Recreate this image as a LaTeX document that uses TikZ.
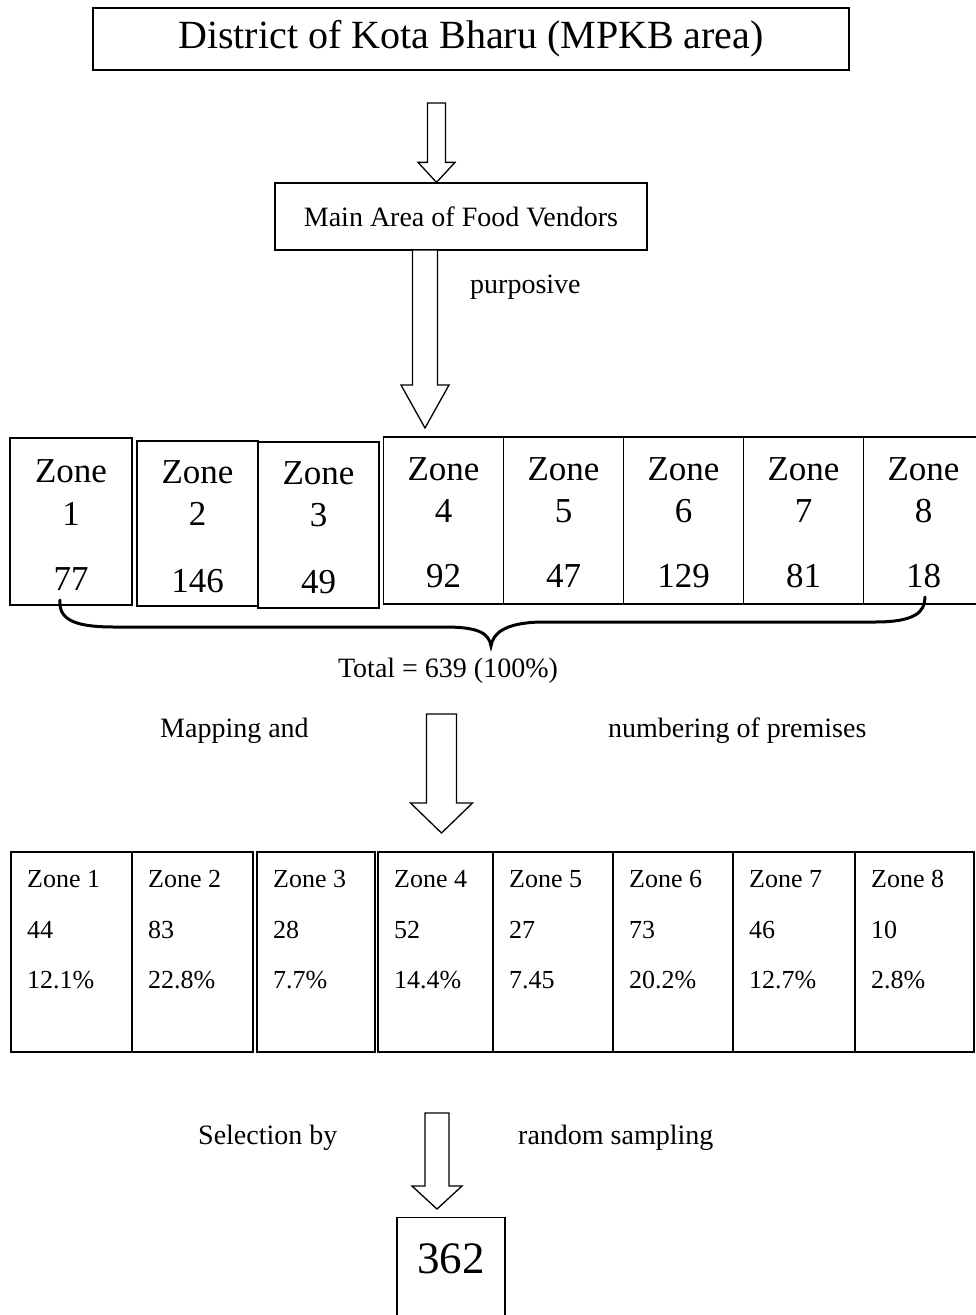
\documentclass[tikz,border=0pt]{standalone}
\usepackage{fontspec}
\setmainfont{Liberation Serif}
\usetikzlibrary{calc}

% hollow block arrow: top, tip, head length, shaft half width, head half width
\newcommand{\blockarrow}[5]{%
  \draw[line width=1.3pt,line join=miter,fill=white] let \p1=(#1), \p2=(#2) in
    (\x2-#4pt,\y1) -- (\x2+#4pt,\y1) -- (\x2+#4pt,\y2+#3pt) -- (\x2+#5pt,\y2+#3pt)
    -- (\x2,\y2) -- (\x2-#5pt,\y2+#3pt) -- (\x2-#4pt,\y2+#3pt) -- cycle;}

\begin{document}
\begin{tikzpicture}[x=1pt,y=-1pt,
  box/.style={draw,line width=1.3pt,inner sep=0pt},
  bigtxt/.style={font=\fontsize{35}{40}\selectfont,anchor=base,inner sep=0pt},
  midtxt/.style={font=\fontsize{28}{32}\selectfont,anchor=base west,inner sep=0pt},
  celltxt/.style={font=\fontsize{26}{30}\selectfont,anchor=base west,inner sep=0pt}]
\useasboundingbox (0,0) rectangle (976,1315);

% top boxes
\node[box,minimum width=756pt,minimum height=62pt,font=\fontsize{40}{46}\selectfont] (district) at (471,39) {District of Kota Bharu (MPKB area)};
\node[box,minimum width=372pt,minimum height=67pt,font=\fontsize{28}{32}\selectfont] (mainarea) at (461,216.5) {Main Area of Food Vendors};

% arrows down to the zones
\coordinate (a1top) at (436.5,103);
\blockarrow{a1top}{a1top |- mainarea.north}{20}{9}{18.5}
\coordinate (a2top) at (425,250);
\coordinate (a2tip) at (425,428);
\blockarrow{a2top}{a2tip}{43}{12.5}{24}
\node[midtxt] (purposive) at (470,293) {purposive};

% zones, all premises
\node[box,minimum width=122pt,minimum height=167pt] (zone1) at (71,521.5) {};
\node[bigtxt] at (71,482) {Zone};
\node[bigtxt] at (71,525) {1};
\node[bigtxt] at (71,590) {77};
\node[box,minimum width=121pt,minimum height=165pt] (zone2) at (197.5,523.5) {};
\node[bigtxt] at (197.5,483) {Zone};
\node[bigtxt] at (197.5,525) {2};
\node[bigtxt] at (197.5,592) {146};
\node[box,minimum width=121pt,minimum height=166pt] (zone3) at (318.5,525) {};
\node[bigtxt] at (318.5,484) {Zone};
\node[bigtxt] at (318.5,526) {3};
\node[bigtxt] at (318.5,593) {49};
\foreach \i/\n [count=\k from 0] in {4/92,5/47,6/129,7/81,8/18} {
  \node[box,minimum width=120pt,minimum height=167pt] (zone\i) at (443.5+120*\k,520.5) {};
  \node[bigtxt] at (443.5+120*\k,480) {Zone};
  \node[bigtxt] at (443.5+120*\k,522) {\i};
  \node[bigtxt] at (443.5+120*\k,587) {\n};
}

% brace
\coordinate (bleft) at (60,600);
\coordinate (bright) at (925,597);
\coordinate (btip) at (491,646);
\draw[line width=3pt,line cap=round] (bleft) .. controls (58,622) and (80,627) .. (115,627) -- (445,627)
  .. controls (478,627) and (489,633) .. (btip)
  .. controls (493,633) and (505,623) .. (540,622) -- (875,622)
  .. controls (915,622) and (925,612) .. (bright);
\node[midtxt,anchor=base] (total) at (448,677) {Total = 639 (100\%)};

% mapping
\node[midtxt] (mapping) at (160,737) {Mapping and};
\node[midtxt] (numbering) at (608,737) {numbering of premises};
\coordinate (a3top) at (441.5,714);
\coordinate (a3tip) at (441.5,833);
\blockarrow{a3top}{a3tip}{30}{15}{31}

% zones, sample
\foreach \l/\r/\i/\n/\p in {11/132/1/44/12.1\%,132/253/2/83/22.8\%,257/375/3/28/7.7\%,378/493/4/52/14.4\%,
  493/613/5/27/7.45,613/733/6/73/20.2\%,733/855/7/46/12.7\%,855/974/8/10/2.8\%} {
  \node[box,minimum width={\r-\l},minimum height=200pt] (cell\i) at ({(\l+\r)/2},952) {};
  \node[celltxt] at (\l+16,887) {Zone \i};
  \node[celltxt] at (\l+16,938) {\n};
  \node[celltxt] at (\l+16,988) {\p};
}

% selection
\node[midtxt] (selection) at (198,1144) {Selection by};
\node[midtxt] (random) at (518,1144) {random sampling};
\coordinate (a4top) at (437,1113);
\coordinate (a4tip) at (437,1209);
\blockarrow{a4top}{a4tip}{23}{12}{25}
\node[box,minimum width=108pt,minimum height=140pt,anchor=north] (sample) at (451,1217) {};
\node[font=\fontsize{45}{50}\selectfont,anchor=base,inner sep=0pt] at (451,1273) {362};

\end{tikzpicture}
\end{document}
